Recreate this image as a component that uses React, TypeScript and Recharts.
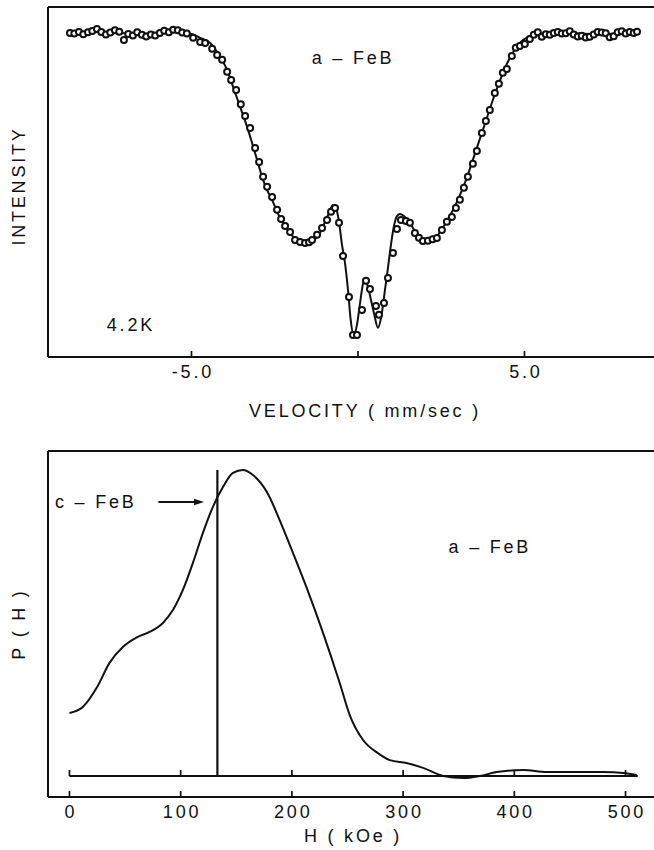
import React from 'react'
import {
	ComposedChart,
	XAxis,
	YAxis,
	Line,
	Scatter,
	ReferenceLine,
	ReferenceDot,
} from 'recharts'

const INK = '#111111'
const FONT = '"Liberation Sans", Arial, Helvetica, sans-serif'

// axis ticks
const velocityTicks = [-5, 0, 5]
const fieldTicks = [0, 100, 200, 300, 400, 500]

// measured Mossbauer spectrum (velocity mm/s, relative intensity)
const measured: [number, number][] = [
	[-8.65, 100.0], [-8.52, 99.8], [-8.38, 100.3], [-8.25, 99.6], [-8.11, 100.2],
	[-7.98, 100.6], [-7.84, 101.2], [-7.71, 100.3], [-7.57, 99.5], [-7.44, 100.1],
	[-7.3, 100.8], [-7.17, 100.4], [-7.03, 97.8], [-6.9, 99.7], [-6.76, 99.2],
	[-6.63, 100.2], [-6.49, 99.4], [-6.36, 98.9], [-6.22, 99.5], [-6.09, 99.2],
	[-5.95, 100.0], [-5.82, 100.7], [-5.68, 100.2], [-5.55, 101.0], [-5.41, 100.8],
	[-5.28, 100.1], [-5.14, 99.8], [-4.95, 98.5], [-4.74, 97.2], [-4.59, 96.9],
	[-4.38, 95.1], [-4.23, 93.2], [-4.08, 91.7], [-3.93, 88.0], [-3.81, 85.5],
	[-3.66, 82.4], [-3.52, 78.0], [-3.39, 74.4], [-3.24, 70.7], [-3.09, 64.5],
	[-2.97, 60.2], [-2.85, 55.6], [-2.73, 52.5], [-2.58, 49.4], [-2.43, 45.4],
	[-2.31, 42.6], [-2.19, 40.4], [-2.04, 38.6], [-1.89, 36.1], [-1.74, 35.5],
	[-1.59, 35.2], [-1.47, 35.4], [-1.38, 36.1], [-1.23, 37.7], [-1.08, 39.8],
	[-0.93, 42.3], [-0.81, 44.8], [-0.69, 46.0], [-0.57, 41.4], [-0.45, 31.2],
	[-0.27, 18.5], [-0.15, 6.8], [-0.03, 6.8], [0.12, 14.5], [0.24, 23.5],
	[0.36, 21.0], [0.54, 15.7], [0.63, 13.0], [0.78, 16.7], [0.9, 24.4],
	[1.05, 32.1], [1.17, 39.5], [1.29, 42.3], [1.44, 42.0], [1.56, 41.4],
	[1.71, 38.3], [1.83, 36.8], [1.95, 35.8], [2.1, 35.9], [2.24, 36.3],
	[2.37, 36.7], [2.52, 39.2], [2.67, 41.7], [2.82, 43.2], [2.94, 46.0],
	[3.06, 48.5], [3.18, 52.2], [3.3, 55.6], [3.45, 59.6], [3.57, 63.6],
	[3.72, 69.1], [3.84, 72.8], [3.96, 76.2], [4.11, 81.5], [4.23, 84.3],
	[4.35, 87.7], [4.47, 88.9], [4.62, 92.9], [4.74, 95.4], [4.86, 96.0],
	[5.01, 96.6], [5.16, 98.1], [5.28, 99.4], [5.4, 100.2], [5.52, 98.8],
	[5.64, 99.6], [5.76, 99.4], [5.88, 100.0], [6.0, 100.3], [6.12, 99.8],
	[6.24, 99.9], [6.36, 100.5], [6.48, 99.5], [6.6, 98.9], [6.72, 99.1],
	[6.84, 98.6], [6.96, 98.8], [7.08, 99.5], [7.2, 100.3], [7.32, 100.1],
	[7.44, 99.9], [7.56, 98.7], [7.68, 99.0], [7.8, 100.2], [7.92, 100.5],
	[8.04, 99.8], [8.16, 100.3], [8.28, 100.0], [8.38, 100.4],
]

// least squares fit drawn through the spectrum
const fitted: [number, number][] = [
	[-8.65, 100.2], [-7.6, 100.3], [-6.6, 99.7], [-5.6, 100.3], [-5.05, 99.8],
	[-4.74, 98.5], [-4.44, 96.9], [-4.14, 92.6], [-3.93, 88.6], [-3.75, 83.3],
	[-3.54, 77.2], [-3.33, 71.0], [-3.18, 66.0], [-3.03, 60.8], [-2.88, 55.6],
	[-2.73, 51.5], [-2.58, 48.5], [-2.43, 44.8], [-2.25, 41.4], [-2.04, 38.3],
	[-1.8, 35.5], [-1.59, 34.6], [-1.38, 35.5], [-1.14, 38.3], [-1.02, 41.0],
	[-0.9, 43.8], [-0.75, 46.9], [-0.66, 46.0], [-0.57, 41.7], [-0.48, 34.6],
	[-0.39, 29.0], [-0.3, 20.7], [-0.22, 11.5], [-0.13, 6.6], [-0.03, 10.0],
	[0.06, 16.5], [0.15, 22.5], [0.21, 23.8], [0.3, 21.6], [0.39, 17.6],
	[0.48, 13.5], [0.6, 9.0], [0.7, 12.5], [0.81, 20.7], [0.9, 27.5],
	[0.99, 34.6], [1.08, 40.4], [1.17, 43.5], [1.26, 44.1], [1.38, 43.5],
	[1.56, 41.4], [1.74, 38.3], [1.95, 36.1], [2.16, 36.1], [2.37, 37.3],
	[2.58, 40.4], [2.79, 44.1], [3.0, 48.5], [3.21, 53.7], [3.42, 59.9],
	[3.63, 66.4], [3.84, 72.8], [4.05, 79.3], [4.26, 85.2], [4.47, 90.4],
	[4.68, 94.4], [4.89, 97.2], [5.11, 98.8], [5.38, 99.7], [6.07, 100.0],
	[7.2, 99.6], [8.38, 100.1],
]

// hyperfine field distribution P(H), H in kOe
const fieldDist: [number, number][] = [
	[0, 21.0], [12, 23.0], [25, 29.7], [36, 37.7], [48, 43.0], [61, 46.3],
	[72, 48.0], [84, 51.0], [93, 55.3], [102, 62.0], [111, 71.0], [120, 81.0],
	[129, 89.7], [138, 96.3], [147, 101.0], [156, 102.0], [165, 100.3],
	[178, 94.3], [189, 85.3], [201, 74.3], [214, 62.0], [228, 47.7],
	[243, 31.0], [252, 20.3], [264, 12.0], [277, 7.7], [288, 5.3], [303, 4.3],
	[318, 2.7], [336, 0.0], [354, -0.7], [369, 0.0], [384, 1.3], [408, 2.0],
	[429, 1.3], [459, 1.3], [480, 1.3], [498, 1.0], [510, 0.3],
]

const crystallineH = 133

const measuredData = measured.map(([v, i]) => ({ v, i }))
const fittedData = fitted.map(([v, i]) => ({ v, i }))
const fieldData = fieldDist.map(([h, p]) => ({ h, p }))

const textStyle = {
	fontFamily: FONT,
	fontSize: 18,
	letterSpacing: 2.8,
	fill: INK,
}

const AxisTick = ({ x, y, payload, skipZero }: any) => (
	<g>
		<line x1={x} x2={x} y1={y} y2={y - 6} stroke={INK} strokeWidth={1.7} />
		{!(skipZero && payload.value === 0) && (
			<text x={x + 1.4} y={y + 21} textAnchor='middle' style={textStyle}>
				{skipZero ? payload.value.toFixed(1) : payload.value}
			</text>
		)}
	</g>
)

const bottomTitle = (text: string, dx: number, dy: number) => ({ viewBox }: any) => (
	<text
		x={viewBox.x + viewBox.width / 2 + dx}
		y={viewBox.y + dy}
		textAnchor='middle'
		style={textStyle}
	>
		{text}
	</text>
)

const sideTitle = (text: string, shift: number) => ({ viewBox }: any) => {
	const cx = 19
	const cy = viewBox.y + viewBox.height / 2 + shift
	return (
		<text
			x={cx}
			y={cy}
			transform={`rotate(-90 ${cx} ${cy})`}
			textAnchor='middle'
			dominantBaseline='central'
			style={textStyle}
		>
			{text}
		</text>
	)
}

const note = (text: string, anchor: string) => ({ viewBox }: any) => (
	<text x={viewBox.x} y={viewBox.y} dy='0.35em' textAnchor={anchor} style={textStyle}>
		{text}
	</text>
)

const OpenCircle = ({ cx, cy }: any) => (
	<circle cx={cx} cy={cy} r={3} fill='#fff' stroke={INK} strokeWidth={2} />
)

const Arrow = ({ x1, y1, x2, y2 }: any) => (
	<g>
		<line x1={x1} y1={y1} x2={x2 - 6} y2={y2} stroke={INK} strokeWidth={2} />
		<polygon points={`${x2},${y2} ${x2 - 10},${y2 - 3.3} ${x2 - 10},${y2 + 3.3}`} fill={INK} />
	</g>
)

const frame = { stroke: INK, strokeWidth: 2 }

const App = () => {
	return (
		<div style={{ position: 'absolute', left: 0, top: 0, width: 654, height: 850, background: '#fff' }}>
			<div style={{ position: 'absolute', left: 0, top: 0 }}>
				<ComposedChart width={654} height={430} margin={{ top: 7, right: 0, bottom: 0, left: 0 }}>
					<XAxis
						type='number'
						dataKey='v'
						domain={[-9.31, 8.89]}
						allowDataOverflow
						ticks={velocityTicks}
						tick={<AxisTick skipZero />}
						tickLine={false}
						tickSize={0}
						tickMargin={0}
						height={73}
						axisLine={frame}
						label={{ content: bottomTitle('VELOCITY ( mm/sec )', 14, 60) }}
					/>
					<YAxis
						type='number'
						dataKey='i'
						domain={[0, 108]}
						allowDataOverflow
						tick={false}
						tickLine={false}
						width={48}
						axisLine={frame}
						label={{ content: sideTitle('INTENSITY', 4) }}
					/>
					<ReferenceLine y={108} stroke={INK} strokeWidth={2} />
					<ReferenceDot x={-0.15} y={92.3} r={0} stroke='none' fill='none' label={{ content: note('a \u2013 FeB', 'middle') }} />
					<ReferenceDot x={-6.82} y={9.9} r={0} stroke='none' fill='none' label={{ content: note('4.2K', 'middle') }} />
					<Line
						data={fittedData}
						dataKey='i'
						type='monotone'
						stroke={INK}
						strokeWidth={2}
						dot={false}
						isAnimationActive={false}
					/>
					<Scatter data={measuredData} dataKey='i' shape={OpenCircle} isAnimationActive={false} />
				</ComposedChart>
			</div>
			<div style={{ position: 'absolute', left: 0, top: 430 }}>
				<ComposedChart width={654} height={420} margin={{ top: 21, right: 0, bottom: 0, left: 0 }}>
					<XAxis
						type='number'
						dataKey='h'
						domain={[-19.3, 525.6]}
						allowDataOverflow
						ticks={fieldTicks}
						tick={<AxisTick />}
						tickLine={false}
						tickSize={0}
						tickMargin={0}
						height={53}
						axisLine={frame}
						label={{ content: bottomTitle('H ( kOe )', 2, 45) }}
					/>
					<YAxis
						type='number'
						dataKey='p'
						domain={[-7, 108.3]}
						allowDataOverflow
						tick={false}
						tickLine={false}
						width={48}
						axisLine={frame}
						label={{ content: sideTitle('P ( H )', 0) }}
					/>
					<ReferenceLine y={108.3} stroke={INK} strokeWidth={2} />
					<ReferenceLine segment={[{ x: 0, y: 0 }, { x: 511, y: 0 }]} stroke={INK} strokeWidth={1.9} />
					{fieldTicks.map((t) => (
						<ReferenceLine key={t} segment={[{ x: t, y: 0 }, { x: t, y: 2 }]} stroke={INK} strokeWidth={1.7} />
					))}
					<ReferenceLine segment={[{ x: crystallineH, y: 0 }, { x: crystallineH, y: 102 }]} stroke={INK} strokeWidth={2.2} />
					<ReferenceLine segment={[{ x: 80, y: 91.3 }, { x: 121, y: 91.3 }]} shape={Arrow} />
					<ReferenceDot x={-13} y={91.3} r={0} stroke='none' fill='none' label={{ content: note('c \u2013 FeB', 'start') }} />
					<ReferenceDot x={378} y={76.3} r={0} stroke='none' fill='none' label={{ content: note('a \u2013 FeB', 'middle') }} />
					<Line
						data={fieldData}
						dataKey='p'
						type='monotone'
						stroke={INK}
						strokeWidth={2}
						dot={false}
						isAnimationActive={false}
					/>
				</ComposedChart>
			</div>
		</div>
	)
}

export default App
